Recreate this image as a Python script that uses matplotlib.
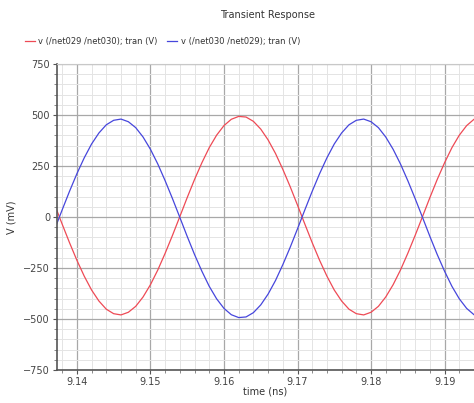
import matplotlib.pyplot as plt
from matplotlib.ticker import MultipleLocator

# transient samples, 1 ps apart
timeNs = [round(9.137 + 0.001 * i, 3) for i in range(59)]
vNet030 = [-58, 35, 126, 212, 290, 358, 412, 452, 474, 480, 467, 438, 392, 332, 260, 178, 90, -2,
           -95, -184, -266, -340, -401, -448, -479, -493, -490, -469, -431, -378, -312, -234, -149,
           -58, 35, 126, 212, 290, 358, 412, 452, 474, 480, 467, 438, 392, 332, 260, 178, 90, -2,
           -95, -184, -266, -340, -401, -448, -479, -493]
vNet029 = [58, -35, -126, -212, -290, -358, -412, -452, -474, -480, -467, -438, -392, -332, -260, -178, -90, 2,
           95, 184, 266, 340, 401, 448, 479, 493, 490, 469, 431, 378, 312, 234, 149,
           58, -35, -126, -212, -290, -358, -412, -452, -474, -480, -467, -438, -392, -332, -260, -178, -90, 2,
           95, 184, 266, 340, 401, 448, 479, 493]
legendNames = ['v (/net029 /net030); tran (V)', 'v (/net030 /net029); tran (V)']
yTicks = [-750, -500, -250, 0, 250, 500, 750]
xTicks = [9.14, 9.15, 9.16, 9.17, 9.18, 9.19]

fig = plt.figure(figsize=(4.74, 4.03), dpi=100)
ax = fig.add_axes([0.1203, 0.0819, 0.8797, 0.7593])

redLine, = ax.plot(timeNs, vNet029, color='#ee4a55', lw=0.9)
blueLine, = ax.plot(timeNs, vNet030, color='#4646dc', lw=0.9)

ax.set_xlim(9.1373, 9.1940)
ax.set_ylim(-750, 750)
ax.set_xticks(xTicks)
ax.set_xticklabels(['%.2f' % t for t in xTicks])
ax.set_yticks(yTicks)
ax.xaxis.set_minor_locator(MultipleLocator(0.002))
ax.yaxis.set_minor_locator(MultipleLocator(50))

ax.grid(True, which='major', color='#a8a8a8', lw=0.9)
ax.grid(True, which='minor', color='#e4e4e4', lw=0.7)
ax.set_axisbelow(True)

ax.spines['right'].set_visible(False)
ax.spines['top'].set_color('#c8c8c8')
ax.spines['left'].set_color('#555555')
ax.spines['bottom'].set_color('#555555')
ax.spines['left'].set_linewidth(1.2)
ax.spines['bottom'].set_linewidth(1.2)
ax.tick_params(which='major', length=3, width=0.8, color='#555555',
               labelsize=7, labelcolor='#444444', pad=2)
ax.tick_params(which='minor', length=2, width=0.6, color='#777777')

ax.set_xlabel('time (ns)', fontsize=7, color='#333333', labelpad=0)
ax.set_ylabel('V (mV)', fontsize=7, color='#333333', labelpad=5)

fig.text(0.565, 0.962, 'Transient Response', ha='center', va='center',
         fontsize=7, color='#333333')
fig.legend([redLine, blueLine], legendNames, loc='center left',
           bbox_to_anchor=(0.045, 0.898), ncol=2, frameon=False,
           fontsize=6, labelcolor='#333333', handlelength=1.2,
           handletextpad=0.4, columnspacing=1.2, borderaxespad=0)

fig.savefig('out.png', dpi=100)
